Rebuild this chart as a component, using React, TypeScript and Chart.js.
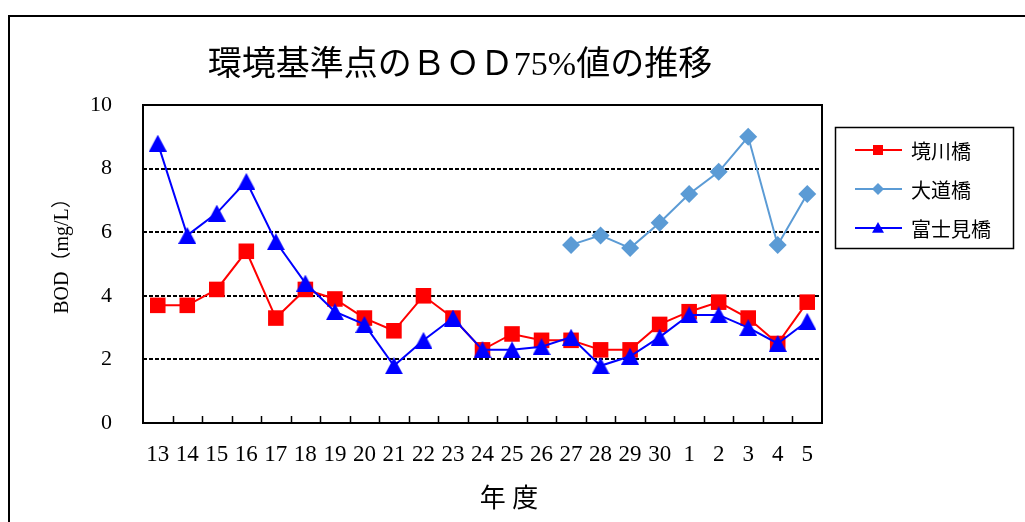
import React, { useEffect, useRef } from 'react';
import { Chart, registerables } from 'chart.js';

Chart.register(...registerables);

const years = ['13', '14', '15', '16', '17', '18', '19', '20', '21', '22', '23', '24', '25', '26', '27', '28', '29', '30', '1', '2', '3', '4', '5'];
const sakaigawa = [3.7, 3.7, 4.2, 5.4, 3.3, 4.2, 3.9, 3.3, 2.9, 4.0, 3.3, 2.3, 2.8, 2.6, 2.6, 2.3, 2.3, 3.1, 3.5, 3.8, 3.3, 2.5, 3.8];
const daido = [null, null, null, null, null, null, null, null, null, null, null, null, null, null, 5.6, 5.9, 5.5, 6.3, 7.2, 7.9, 9.0, 5.6, 7.2];
const fujimi = [8.8, 5.9, 6.6, 7.6, 5.7, 4.4, 3.5, 3.1, 1.8, 2.6, 3.3, 2.3, 2.3, 2.4, 2.7, 1.8, 2.1, 2.7, 3.4, 3.4, 3.0, 2.5, 3.2];
const yTicks = [0, 2, 4, 6, 8, 10];
const seriesNames = ['境川橋', '大道橋', '富士見橋'];
const titleText = '環境基準点のＢＯＤ75%値の推移';
const yTitle = 'BOD（mg/L）';
const xTitle = '年 度';

const RED = '#FF0000';
const LIGHT = '#5B9BD5';
const BLUE = '#0000FF';
const SERIF = "'Liberation Serif', 'Noto Sans CJK JP', serif";
const SANS = "'Noto Sans CJK JP', 'Noto Sans', sans-serif";

function makeTriangle(w: number, h: number, color: string) {
  const c = document.createElement('canvas');
  c.width = w;
  c.height = h;
  const g = c.getContext('2d') as CanvasRenderingContext2D;
  g.fillStyle = color;
  g.beginPath();
  g.moveTo(w / 2, 0);
  g.lineTo(w, h);
  g.lineTo(0, h);
  g.closePath();
  g.fill();
  return c;
}

function drawMarker(ctx: CanvasRenderingContext2D, kind: string, x: number, y: number, r: number, color: string) {
  ctx.save();
  ctx.fillStyle = color;
  ctx.beginPath();
  if (kind === 'rect') {
    ctx.rect(x - r, y - r, 2 * r, 2 * r);
  } else if (kind === 'rectRot') {
    ctx.moveTo(x, y - r);
    ctx.lineTo(x + r, y);
    ctx.lineTo(x, y + r);
    ctx.lineTo(x - r, y);
    ctx.closePath();
  } else {
    ctx.moveTo(x, y - r);
    ctx.lineTo(x + r, y + r * 0.8);
    ctx.lineTo(x - r, y + r * 0.8);
    ctx.closePath();
  }
  ctx.fill();
  ctx.restore();
}

const decorPlugin = {
  id: 'decor',
  beforeDraw(chart: any) {
    const ctx = chart.ctx as CanvasRenderingContext2D;
    ctx.save();
    ctx.fillStyle = '#ffffff';
    ctx.fillRect(0, 0, chart.width, chart.height);
    ctx.strokeStyle = '#000';
    ctx.lineWidth = 2;
    ctx.beginPath();
    ctx.moveTo(9, chart.height + 5);
    ctx.lineTo(9, 16);
    ctx.lineTo(chart.width + 5, 16);
    ctx.stroke();
    ctx.restore();
  },
  beforeDatasetsDraw(chart: any) {
    const ctx = chart.ctx as CanvasRenderingContext2D;
    const a = chart.chartArea;
    const xs = chart.scales.x;
    ctx.save();
    ctx.strokeStyle = '#000';
    ctx.lineWidth = 2;
    ctx.strokeRect(a.left, a.top, a.right - a.left, a.bottom - a.top);
    const n = years.length;
    const step = (a.right - a.left) / n;
    ctx.lineWidth = 1.5;
    ctx.beginPath();
    for (let i = 1; i < n; i++) {
      const px = xs.getPixelForValue(i) - step / 2;
      ctx.moveTo(Math.round(px) + 0.5, a.bottom);
      ctx.lineTo(Math.round(px) + 0.5, a.bottom - 7);
    }
    ctx.stroke();
    ctx.restore();
  },
  afterDraw(chart: any) {
    const ctx = chart.ctx as CanvasRenderingContext2D;
    ctx.save();
    ctx.fillStyle = '#000';
    ctx.font = `34px ${SERIF}`;
    ctx.textAlign = 'center';
    ctx.textBaseline = 'middle';
    ctx.fillText(titleText, 460, 66);
    ctx.save();
    ctx.translate(63, 251);
    ctx.rotate(-Math.PI / 2);
    ctx.font = `20px ${SERIF}`;
    ctx.fillText(yTitle, 0, 0);
    ctx.restore();
    ctx.font = `26px ${SERIF}`;
    ctx.fillText(xTitle, 509, 500);

    const bx = 835, by = 127, bw = 178, bh = 121;
    ctx.lineWidth = 1.5;
    ctx.strokeStyle = '#000';
    ctx.strokeRect(bx + 0.5, by + 0.5, bw, bh);
    const rows = [150, 189, 228];
    const kinds = ['rect', 'rectRot', 'triangle'];
    chart.data.datasets.forEach((ds: any, i: number) => {
      const y = rows[i];
      ctx.strokeStyle = ds.borderColor;
      ctx.lineWidth = 2;
      ctx.beginPath();
      ctx.moveTo(855, y);
      ctx.lineTo(902, y);
      ctx.stroke();
      const r = kinds[i] === 'rect' ? 5 : 6;
      drawMarker(ctx, kinds[i], 878, y, r, ds.backgroundColor);
      ctx.fillStyle = '#000';
      ctx.textAlign = 'left';
      ctx.textBaseline = 'middle';
      ctx.font = `20px ${SANS}`;
      ctx.fillText(ds.label, 911, y + 1);
    });
    ctx.restore();
  },
};

export default function App() {
  const ref = useRef<HTMLCanvasElement | null>(null);
  useEffect(() => {
    if (!ref.current) return;
    const tri = makeTriangle(18, 17, BLUE);
    const chart = new Chart(ref.current, {
      type: 'line',
      data: {
        labels: years,
        datasets: [
          {
            label: seriesNames[0],
            data: sakaigawa,
            order: 2,
            borderColor: RED,
            backgroundColor: RED,
            borderWidth: 2,
            pointStyle: 'rect',
            pointRadius: 11,
            pointBorderWidth: 0,
            pointBackgroundColor: RED,
          },
          {
            label: seriesNames[1],
            data: daido,
            order: 1,
            borderColor: LIGHT,
            backgroundColor: LIGHT,
            borderWidth: 2,
            pointStyle: 'rectRot',
            pointRadius: 9,
            pointBorderWidth: 0,
            pointBackgroundColor: LIGHT,
          },
          {
            label: seriesNames[2],
            data: fujimi,
            order: 0,
            borderColor: BLUE,
            backgroundColor: BLUE,
            borderWidth: 2,
            pointStyle: tri,
            pointRadius: 10,
            pointBorderWidth: 0,
            pointBackgroundColor: BLUE,
          },
        ],
      },
      options: {
        responsive: false,
        animation: false,
        events: [],
        layout: { padding: { left: 0, top: 105, right: 203, bottom: 0 } },
        plugins: {
          legend: { display: false },
          title: { display: false },
          tooltip: { enabled: false },
        },
        scales: {
          x: {
            type: 'category',
            offset: true,
            grid: { display: false, drawTicks: false },
            border: { display: false },
            ticks: {
              autoSkip: false,
              maxRotation: 0,
              minRotation: 0,
              padding: 18,
              color: '#000',
              font: { family: SERIF, size: 23 },
            },
            afterFit: (s: any) => { s.height = 99; },
          },
          y: {
            min: 0,
            max: 10,
            afterBuildTicks: (s: any) => { s.ticks = yTicks.map((v) => ({ value: v })); },
            grid: {
              drawTicks: false,
              color: (c: any) => (c.tick && (c.tick.value === 0 || c.tick.value === 10) ? 'rgba(0,0,0,0)' : '#000'),
              lineWidth: 2,
            },
            border: { display: false, dash: [4, 2] },
            ticks: {
              padding: 31,
              color: '#000',
              font: { family: SERIF, size: 22 },
            },
            afterFit: (s: any) => { s.width = 143; },
          },
        },
      },
      plugins: [decorPlugin],
    } as any);
    return () => chart.destroy();
  }, []);
  return (
    <div style={{ position: 'absolute', left: 0, top: 0, width: 1025, height: 522 }}>
      <canvas ref={ref} width={1025} height={522} style={{ display: 'block', width: 1025, height: 522 }} />
    </div>
  );
}
